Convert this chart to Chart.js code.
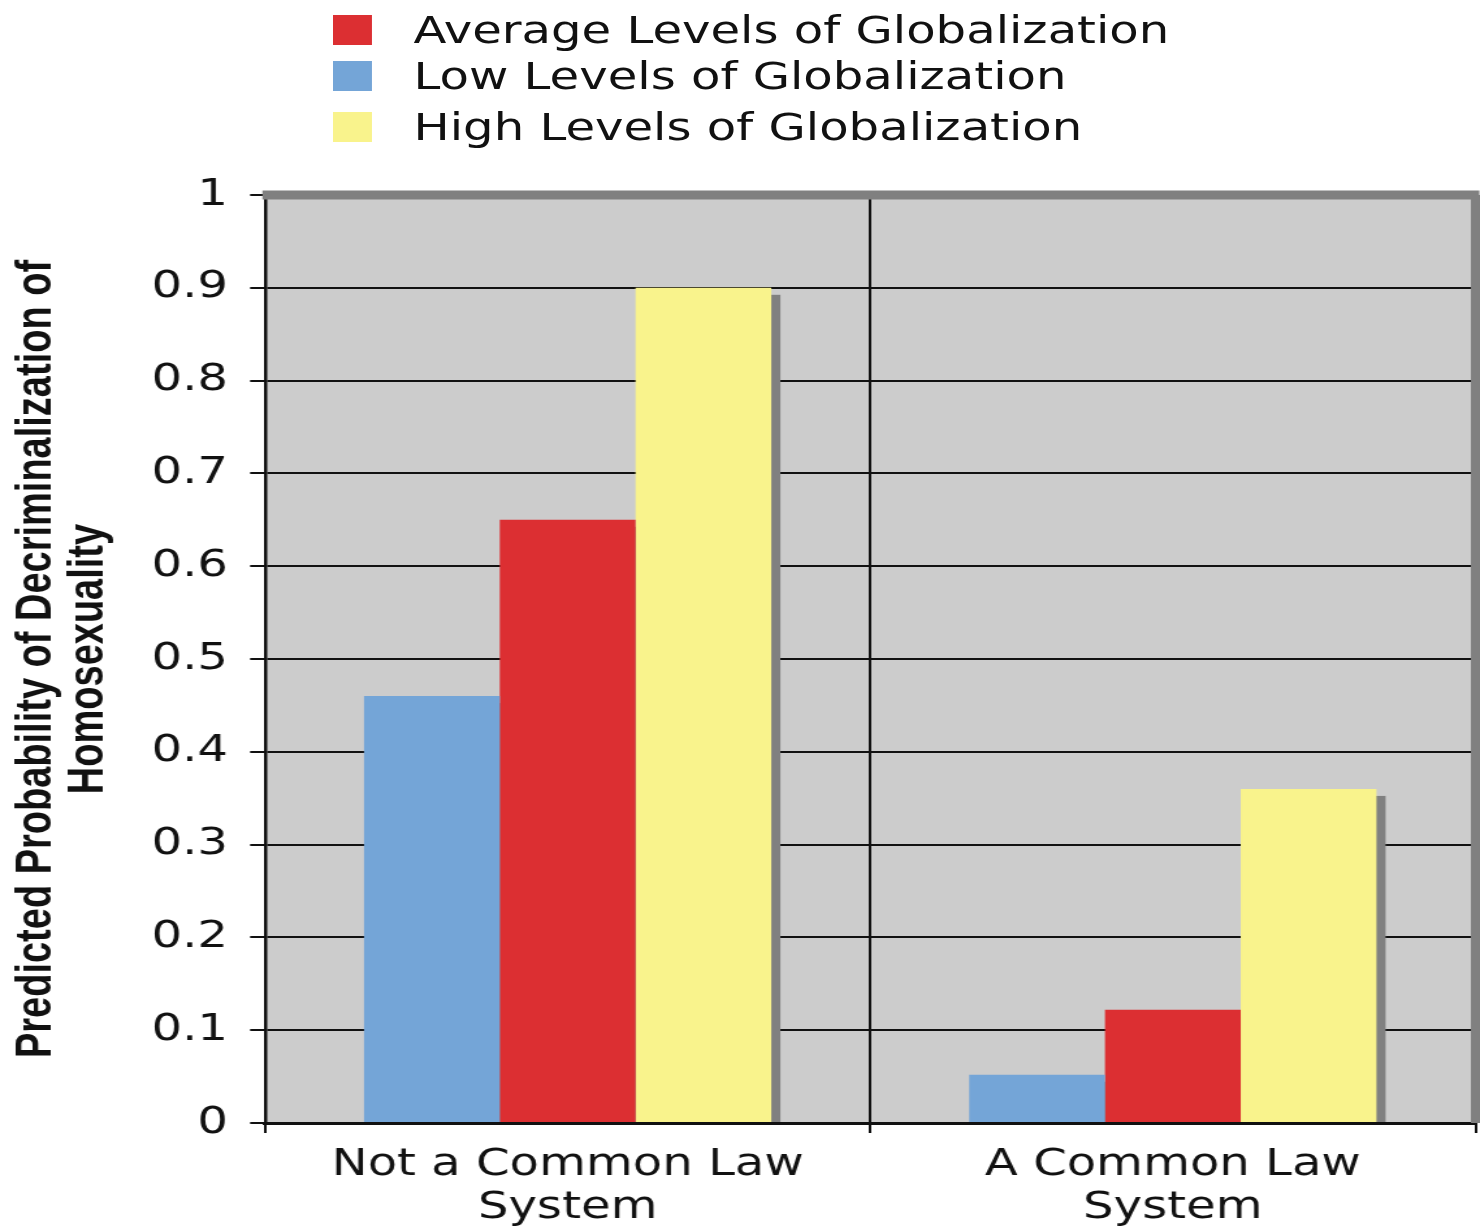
<!DOCTYPE html>
<html>
<head>
<meta charset="utf-8">
<script src="https://cdn.jsdelivr.net/npm/chart.js@4.4.1/dist/chart.umd.min.js"></script>
<style>
	html, body { margin: 0; padding: 0; background: #fff; overflow: hidden; }
	/* the original picture is stretched sideways, so the whole chart is drawn narrow and scaled */
	#wrap {
		position: relative;
		width: 1138px;
		height: 1228px;
		transform: scaleX(1.3005);
		transform-origin: 0 0;
	}
	#chart { position: absolute; left: 0; top: 0; }
	.legend-row {
		position: absolute;
		left: 256px;
		height: 32px;
		display: flex;
		align-items: center;
		font-family: "DejaVu Sans", Verdana, sans-serif;
		font-size: 37px;
		color: #111;
		white-space: nowrap;
	}
	.legend-row span.box { display: inline-block; width: 30px; height: 30px; margin-right: 32px; }
</style>
</head>
<body>
<div id="wrap">
	<canvas id="chart" width="1138" height="1228"></canvas>
</div>
<script>
const categories = [['Not a Common Law', 'System'], ['A Common Law', 'System']];
const seriesNames = ['Low Levels of Globalization', 'Average Levels of Globalization', 'High Levels of Globalization'];
const lowValues = [0.46, 0.052];
const averageValues = [0.65, 0.122];
const highValues = [0.90, 0.36];
const seriesColors = ['#74a5d7', '#dc2f32', '#f9f38c'];
const legendOrder = [1, 0, 2];
const yTitle = ['Predicted Probability of Decriminalization of', 'Homosexuality'];

const FONT = '"DejaVu Sans", Verdana, sans-serif';
const seriesValues = [lowValues, averageValues, highValues];

// legend, built from the same series
const legendTops = [14, 60, 111];
const wrap = document.getElementById('wrap');
legendOrder.forEach((idx, row) => {
	const el = document.createElement('div');
	el.className = 'legend-row';
	el.style.top = legendTops[row] + 'px';
	const box = document.createElement('span');
	box.className = 'box';
	box.style.background = seriesColors[idx];
	el.appendChild(box);
	el.appendChild(document.createTextNode(seriesNames[idx]));
	wrap.appendChild(el);
});

const plotBackground = {
	id: 'plotBackground',
	beforeDraw(chart){
		const { ctx, chartArea: a } = chart;
		ctx.save();
		ctx.fillStyle = '#cccccc';
		ctx.fillRect(a.left, a.top, a.right - a.left, a.bottom - a.top);
		ctx.restore();
	}
};

const barShadow = {
	id: 'barShadow',
	beforeDatasetsDraw(chart){
		const ctx = chart.ctx;
		ctx.save();
		ctx.fillStyle = '#808080';
		chart.data.datasets.forEach((ds, i) => {
			chart.getDatasetMeta(i).data.forEach(bar => {
				const p = bar.getProps(['x', 'y', 'base', 'width'], true);
				ctx.fillRect(p.x - p.width / 2 + 7, p.y + 7, p.width, p.base - p.y - 7);
			});
		});
		ctx.restore();
	}
};

const plotFrame = {
	id: 'plotFrame',
	afterDatasetsDraw(chart){
		const { ctx, chartArea: a } = chart;
		ctx.save();
		ctx.strokeStyle = '#808080';
		ctx.lineWidth = 9;
		ctx.beginPath();
		ctx.moveTo(a.left - 2, a.top);
		ctx.lineTo(a.right + 3, a.top);
		ctx.stroke();
		ctx.lineWidth = 7;
		ctx.beginPath();
		ctx.moveTo(a.right, a.top);
		ctx.lineTo(a.right, a.bottom);
		ctx.stroke();
		ctx.restore();
	}
};

new Chart(document.getElementById('chart'), {
	type: 'bar',
	data: {
		labels: categories,
		datasets: seriesNames.map((name, i) => ({
			label: name,
			data: seriesValues[i],
			backgroundColor: seriesColors[i],
			borderWidth: 0,
			categoryPercentage: 0.673,
			barPercentage: 1
		}))
	},
	options: {
		responsive: false,
		animation: false,
		devicePixelRatio: 1,
		layout: { padding: { top: 195, right: 3.5, bottom: 0, left: 0 } },
		plugins: {
			legend: { display: false },
			tooltip: { enabled: false }
		},
		scales: {
			x: {
				grid: { color: '#111', lineWidth: 2, tickLength: 10, offset: true },
				border: { color: '#111', width: 3 },
				ticks: {
					color: '#111',
					padding: 11,
					maxRotation: 0,
					font: { family: FONT, size: 37, lineHeight: 1.16 }
				},
				afterFit(scale){ scale.height = 105; }
			},
			y: {
				min: 0,
				max: 1,
				grid: { color: '#111', lineWidth: 2, tickLength: 11.5 },
				border: { color: '#111', width: 2.5 },
				ticks: {
					stepSize: 0.1,
					color: '#111',
					padding: 17,
					font: { family: FONT, size: 37 },
					callback: v => String(Math.round(v * 10) / 10)
				},
				title: {
					display: true,
					text: yTitle,
					color: '#111',
					padding: { top: 9, bottom: 0 },
					font: { family: '"Liberation Sans", Arial, sans-serif', size: 38, weight: 'bold', lineHeight: 1.05 }
				},
				afterFit(scale){ scale.width = 203.8; }
			}
		}
	},
	plugins: [plotBackground, barShadow, plotFrame]
});
</script>
</body>
</html>
